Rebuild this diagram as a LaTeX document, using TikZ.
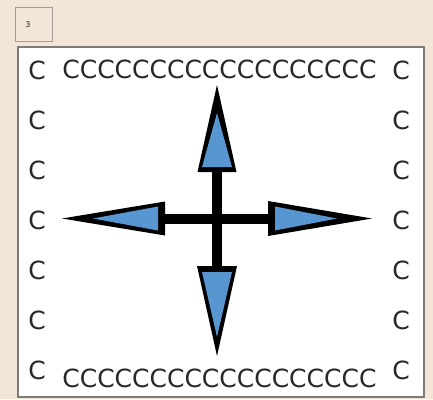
\documentclass[tikz,border=0pt]{standalone}
\usepackage{fontspec}
\setmainfont{DejaVu Sans}
\definecolor{bg}{RGB}{244,229,217}
\definecolor{frame}{RGB}{125,122,120}
\definecolor{smallframe}{RGB}{165,155,148}
\definecolor{arrowblue}{RGB}{88,150,210}
\definecolor{letter}{RGB}{40,40,40}
\tikzset{
  letterC/.style={inner sep=0pt, font=\fontsize{25}{25}\selectfont, text=letter},
  headout/.style={fill=black},
  headin/.style={fill=arrowblue},
  shaft/.style={line width=10pt, black}
}
\begin{document}
\begin{tikzpicture}[x=1pt,y=-1pt]
\fill[bg] (0,0) rectangle (433,399);
\useasboundingbox (0,0) rectangle (433,399);
% small box
\draw[smallframe, line width=1pt] (15.5,7.5) rectangle (52.5,41.5);
\node[inner sep=0pt, font=\fontsize{8}{8}\selectfont, text=letter] (num) at (28,25) {3};
% main box
\draw[frame, fill=white, line width=2pt] (18,47) rectangle (424,397);
% letters
\node[letterC] (top) at (219.5,69) {CCCCCCCCCCCCCCCCCC};
\node[letterC] (bot) at (219.5,378) {CCCCCCCCCCCCCCCCCC};
\foreach \i in {0,...,6}{
  \node[letterC] (l\i) at (37,{70+50*\i}) {C};
  \node[letterC] (r\i) at (401,{70+50*\i}) {C};
}
% cross
\coordinate (c) at (217,218.5);
\coordinate (ub) at (217,170);
\coordinate (db) at (217,268);
\coordinate (lb) at (163,218.5);
\coordinate (rb) at (270,218.5);
\draw[shaft] (ub) -- (db);
\draw[shaft] (lb) -- (rb);
% up head
\fill[headout] (217,85) -- (236.5,172) -- (197.5,172) -- cycle;
\fill[headin] (217,113) -- (232,167) -- (202,167) -- cycle;
% down head
\fill[headout] (217,356) -- (237,266) -- (197,266) -- cycle;
\fill[headin] (217,337) -- (232,272) -- (202,272) -- cycle;
% left head
\fill[headout] (62,218.5) -- (165,201.5) -- (165,235.5) -- cycle;
\fill[headin] (93,218.5) -- (158,206.5) -- (158,230.5) -- cycle;
% right head
\fill[headout] (372,218.5) -- (268,201) -- (268,236) -- cycle;
\fill[headin] (337,218.5) -- (275,206.5) -- (275,230.5) -- cycle;
\end{tikzpicture}
\end{document}
